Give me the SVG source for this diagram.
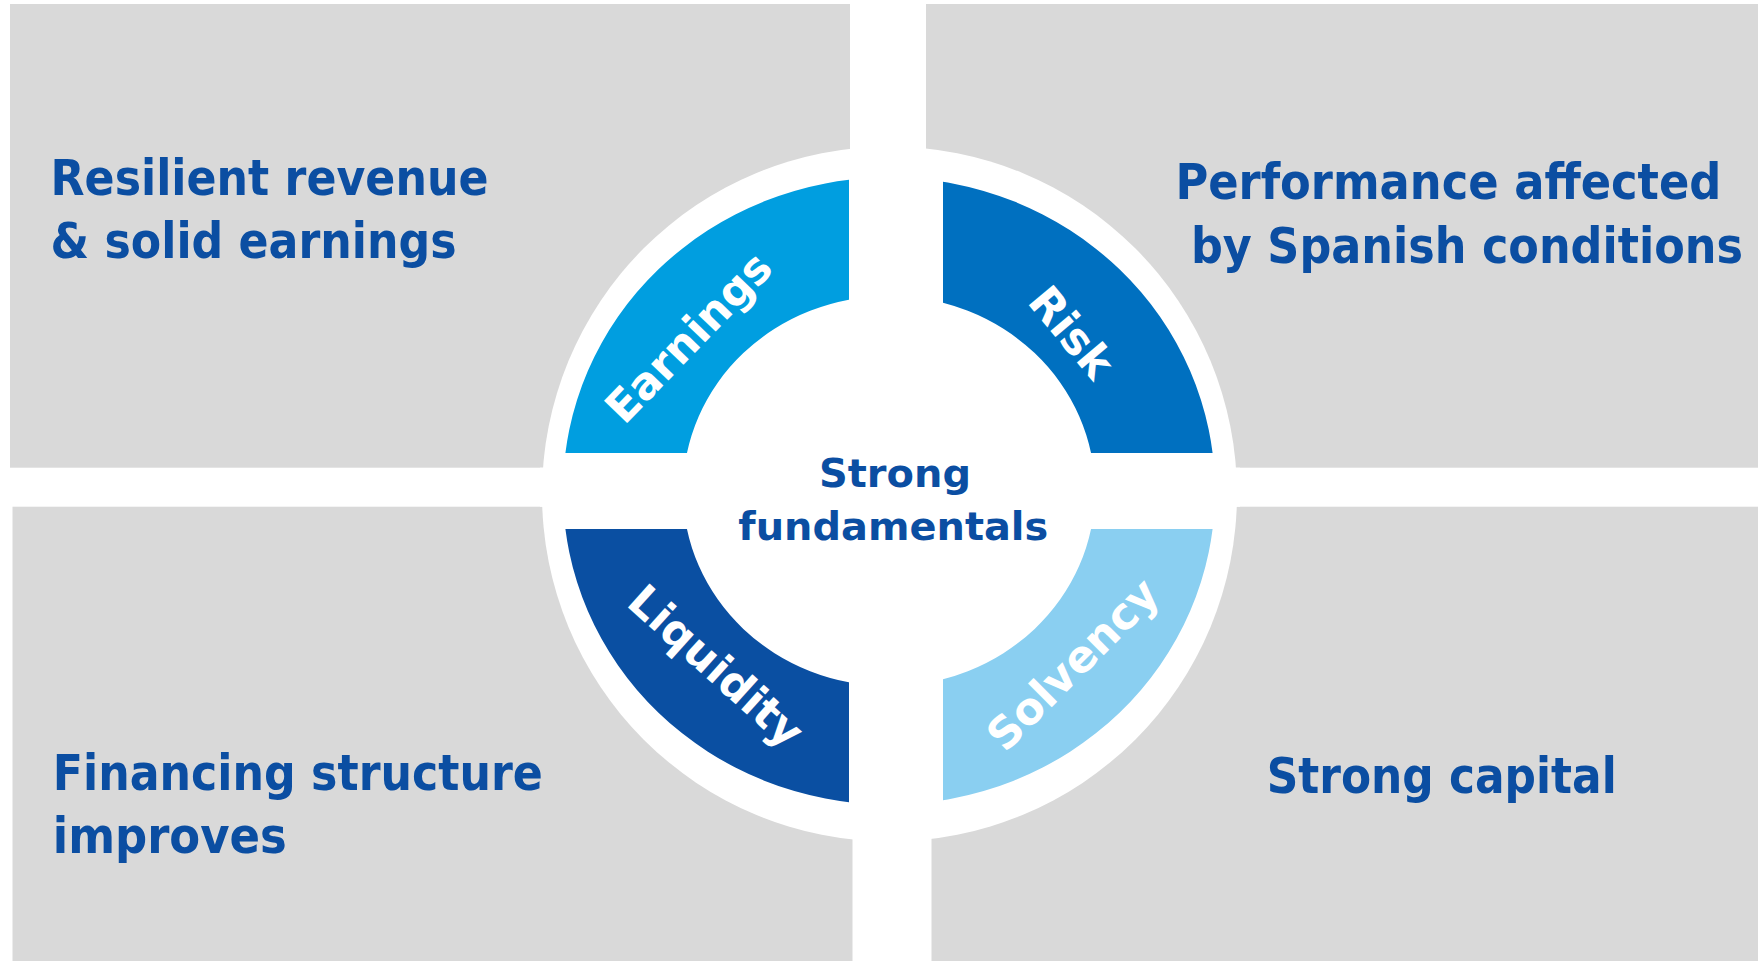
<svg xmlns="http://www.w3.org/2000/svg" width="1758" height="961" viewBox="0 0 1758 961">
  <style>
    .panel { fill: #D9D9D9; }
    .head { font-family: "DejaVu Sans Condensed", "DejaVu Sans", Verdana, sans-serif; font-stretch: condensed; font-weight: bold; font-size: 49px; fill: #0B4EA2; }
    .core { font-family: "DejaVu Sans", Verdana, sans-serif; font-weight: bold; font-size: 39px; fill: #0B4EA2; text-anchor: middle; }
    .tag { font-family: "DejaVu Sans", Verdana, sans-serif; font-weight: bold; font-size: 44px; fill: #FFFFFF; text-anchor: middle; }
  </style>
  <defs>
    <!-- elliptical band shared by the four wheel segments -->
    <path id="ring" fill-rule="evenodd" d="M563,491 A326,313.5 0 1 0 1215,491 A326,313.5 0 1 0 563,491 Z M683,491 A206,195 0 1 0 1095,491 A206,195 0 1 0 683,491 Z"/>
    <clipPath id="q-tl"><rect x="500" y="100" width="349" height="353"/></clipPath>
    <clipPath id="q-tr"><rect x="943" y="100" width="320" height="353"/></clipPath>
    <clipPath id="q-bl"><rect x="500" y="529" width="349" height="320"/></clipPath>
    <clipPath id="q-br"><rect x="943" y="529" width="320" height="320"/></clipPath>
  </defs>

  <rect width="1758" height="961" fill="#FFFFFF"/>

  <!-- quadrant panels -->
  <g id="panel-earnings">
    <rect class="panel" x="10" y="4" width="840" height="463.7"/>
    <text class="head" x="50.5" y="195" textLength="438" lengthAdjust="spacingAndGlyphs">Resilient revenue</text>
    <text class="head" x="50.5" y="258.3" textLength="406" lengthAdjust="spacingAndGlyphs">&amp; solid earnings</text>
  </g>
  <g id="panel-risk">
    <rect class="panel" x="926" y="4" width="832" height="463.7"/>
    <text class="head" x="1175.4" y="199" textLength="546" lengthAdjust="spacingAndGlyphs">Performance affected</text>
    <text class="head" x="1191" y="262.7" textLength="552" lengthAdjust="spacingAndGlyphs">by Spanish conditions</text>
  </g>
  <g id="panel-liquidity">
    <rect class="panel" x="12.5" y="506.7" width="840" height="454.3"/>
    <text class="head" x="52.8" y="790" textLength="490" lengthAdjust="spacingAndGlyphs">Financing structure</text>
    <text class="head" x="52.8" y="853.3" textLength="234" lengthAdjust="spacingAndGlyphs">improves</text>
  </g>
  <g id="panel-solvency">
    <rect class="panel" x="931.5" y="506.7" width="826.5" height="454.3"/>
    <text class="head" x="1266.7" y="793.3" textLength="350" lengthAdjust="spacingAndGlyphs">Strong capital</text>
  </g>

  <!-- wheel -->
  <g id="wheel">
    <circle cx="889.5" cy="494" r="347.5" fill="#FFFFFF"/>
    <rect x="540" y="467.7" width="700" height="39" fill="#FFFFFF"/>
  </g>
  <g id="seg-earnings">
    <use href="#ring" fill="#009EE0" clip-path="url(#q-tl)"/>
    <text class="tag" transform="translate(688,337) rotate(-46)" y="16">Earnings</text>
  </g>
  <g id="seg-risk">
    <use href="#ring" fill="#0070C0" clip-path="url(#q-tr)"/>
    <text class="tag" transform="translate(1072,332) rotate(50)" y="16">Risk</text>
  </g>
  <g id="seg-liquidity">
    <use href="#ring" fill="#0A4FA2" clip-path="url(#q-bl)"/>
    <text class="tag" transform="translate(713.5,669) rotate(42)" y="11.5">Liquidity</text>
  </g>
  <g id="seg-solvency">
    <use href="#ring" fill="#8ACFF1" clip-path="url(#q-br)"/>
    <text class="tag" transform="translate(1075.4,667) rotate(-45)" y="11.5">Solvency</text>
  </g>

  <g id="center">
    <text class="core" x="895" y="486.7" textLength="152" lengthAdjust="spacingAndGlyphs">Strong</text>
    <text class="core" x="893.3" y="540" textLength="310" lengthAdjust="spacingAndGlyphs">fundamentals</text>
  </g>

  <g id="connectors"/>
</svg>
